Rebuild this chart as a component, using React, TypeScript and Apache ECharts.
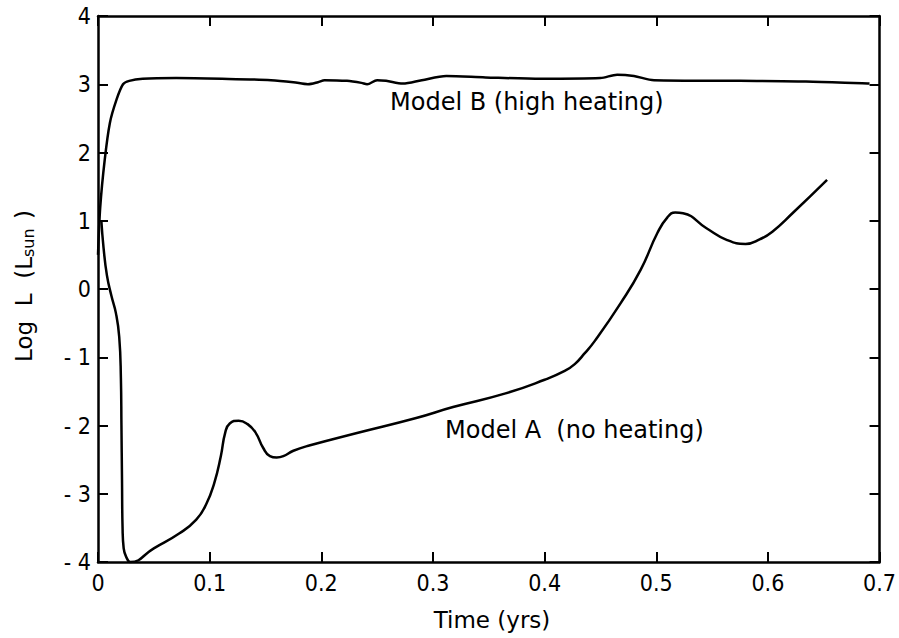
import React, { useEffect, useRef } from "react";
import * as echarts from "echarts";

const timeA = [0.003, 0.005, 0.008, 0.012, 0.016, 0.019, 0.0205, 0.021, 0.0215, 0.022, 0.023, 0.026, 0.029, 0.05, 0.073, 0.088, 0.097, 0.104, 0.11, 0.114, 0.118, 0.126, 0.134, 0.141, 0.148, 0.154, 0.16, 0.166, 0.175, 0.19, 0.232, 0.285, 0.318, 0.365, 0.4, 0.418, 0.427, 0.436, 0.445, 0.468, 0.486, 0.501, 0.51, 0.517, 0.524, 0.545, 0.563, 0.58, 0.593, 0.604, 0.622, 0.653];
const logLA = [1.0, 0.6, 0.2, -0.1, -0.35, -0.7, -1.3, -2.0, -2.8, -3.5, -3.8, -3.95, -4.0, -3.8, -3.58, -3.38, -3.15, -2.85, -2.45, -2.1, -1.97, -1.93, -1.98, -2.1, -2.33, -2.45, -2.47, -2.45, -2.37, -2.29, -2.11, -1.89, -1.73, -1.53, -1.33, -1.2, -1.1, -0.94, -0.76, -0.21, 0.28, 0.82, 1.05, 1.12, 1.11, 0.89, 0.72, 0.66, 0.73, 0.84, 1.11, 1.6];

const timeB = [0, 0.002, 0.006, 0.0106, 0.0165, 0.0224, 0.028, 0.04, 0.07, 0.111, 0.155, 0.175, 0.188, 0.197, 0.203, 0.223, 0.236, 0.241, 0.25, 0.258, 0.273, 0.29, 0.312, 0.347, 0.397, 0.45, 0.465, 0.48, 0.498, 0.575, 0.634, 0.691];
const logLB = [0.5, 1.2, 1.89, 2.43, 2.77, 3.0, 3.05, 3.08, 3.09, 3.08, 3.06, 3.03, 3.0, 3.03, 3.06, 3.05, 3.02, 3.0, 3.06, 3.05, 3.01, 3.06, 3.12, 3.1, 3.08, 3.09, 3.14, 3.12, 3.06, 3.05, 3.04, 3.01];

const labelB = "Model B (high heating)";
const labelA = "Model A  (no heating)";
const xTitle = "Time (yrs)";

const FONT = "DejaVu Sans";
const TICKFONT = "'Liberation Sans Narrow', 'DejaVu Sans Condensed', 'DejaVu Sans', sans-serif";

export default function App() {
  const ref = useRef<HTMLDivElement>(null);
  useEffect(() => {
    if (!ref.current) return;
    const chart = echarts.init(ref.current, null, { renderer: "svg" });
    const tickStyle = { show: true, inside: true, length: 10, lineStyle: { color: "#000", width: 2 } };
    const lineStyle = { show: true, onZero: false, lineStyle: { color: "#000", width: 2.5 } };
    chart.setOption({
      animation: false,
      backgroundColor: "#fff",
      grid: { left: 98, right: 11, top: 16, bottom: 76, containLabel: false },
      xAxis: [
        {
          type: "value", min: 0, max: 0.7, interval: 0.1, position: "bottom",
          axisLine: lineStyle, axisTick: tickStyle, splitLine: { show: false },
          axisLabel: { color: "#000", fontFamily: TICKFONT, fontSize: 23, margin: 9 },
        },
        {
          type: "value", min: 0, max: 0.7, interval: 0.1, position: "top",
          axisLine: lineStyle, axisTick: tickStyle, splitLine: { show: false },
          axisLabel: { show: false },
        },
      ],
      yAxis: [
        {
          type: "value", min: -4, max: 4, interval: 1, position: "left",
          axisLine: lineStyle, axisTick: tickStyle, splitLine: { show: false },
          axisLabel: {
            color: "#000", fontFamily: TICKFONT, fontSize: 23, margin: 7,
            formatter: (v: number) => (v < 0 ? "- " + Math.abs(v) : String(v)),
          },
        },
        {
          type: "value", min: -4, max: 4, interval: 1, position: "right",
          axisLine: lineStyle, axisTick: tickStyle, splitLine: { show: false },
          axisLabel: { show: false },
        },
      ],
      series: [
        {
          type: "line", name: "Model B", xAxisIndex: 0, yAxisIndex: 0,
          data: timeB.map((t, i) => [t, logLB[i]]),
          smooth: 0.3, showSymbol: false, lineStyle: { color: "#000", width: 2.5 },
        },
        {
          type: "line", name: "Model A", xAxisIndex: 0, yAxisIndex: 0,
          data: timeA.map((t, i) => [t, logLA[i]]),
          smooth: 0.5, showSymbol: false, lineStyle: { color: "#000", width: 2.5 },
        },
      ],
      graphic: [
        {
          type: "text", left: 390, top: 90,
          style: { text: labelB, fill: "#000", font: `24px "${FONT}"` },
        },
        {
          type: "text", left: 445, top: 418,
          style: { text: labelA, fill: "#000", font: `24px "${FONT}"` },
        },
        {
          type: "text", x: 492, y: 620,
          style: { text: xTitle, fill: "#000", font: `23px "${FONT}"`, align: "center", verticalAlign: "middle" },
        },
        {
          type: "text", x: 24, y: 286, rotation: Math.PI / 2,
          style: {
            text: "{m|Log  L  (L}{s|sun}{m| )}",
            fill: "#000", align: "center", verticalAlign: "middle",
            rich: {
              m: { fontFamily: FONT, fontSize: 23, fill: "#000" },
              s: { fontFamily: FONT, fontSize: 16, fill: "#000", padding: [9, 2, 0, 0] },
            },
          },
        },
      ],
    });
    return () => chart.dispose();
  }, []);
  return <div ref={ref} style={{ position: "fixed", left: 0, top: 0, width: 899, height: 638 }} />;
}
